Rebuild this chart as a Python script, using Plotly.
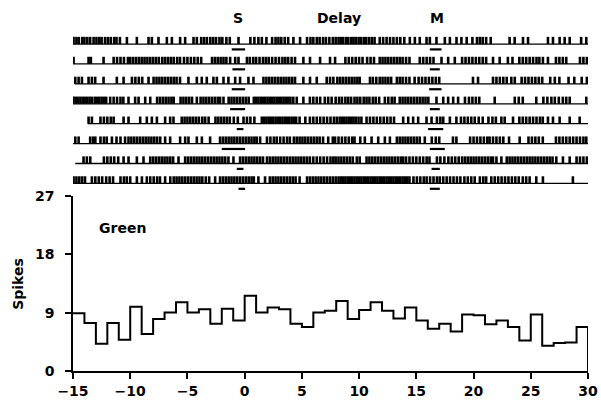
import plotly.graph_objects as go

# ---- Peri-event histogram (1-unit bins from -15 to 30) ----
bin_edges = list(range(-15, 31))
spike_counts = [8.9, 7.4, 4.2, 7.4, 4.8, 9.9, 5.7, 8.0, 9.0, 10.6,
                9.0, 9.5, 7.3, 9.6, 7.8, 11.6, 9.0, 9.8, 9.5, 7.3,
                6.8, 9.0, 9.3, 10.8, 8.0, 9.4, 10.6, 9.3, 8.1, 9.8,
                7.8, 6.5, 7.3, 6.1, 8.7, 8.6, 7.2, 7.8, 6.8, 4.7,
                8.7, 3.9, 4.3, 4.4, 6.8]
y_ticks = [0, 9, 18, 27]
x_ticks = [-15, -10, -5, 0, 5, 10, 15, 20, 25, 30]

# ---- Raster: spike times for each of the 8 trials (top to bottom) ----
trial_1 = [-14.95, -14.7, -14.5, -14.2, -14.0, -13.75, -13.5, -13.2, -12.95, -12.7, -12.5, -12.2,
           -11.95, -11.7, -11.4, -11.2, -10.9, -10.29, -9.42, -8.4, -8.11, -7.53, -6.8, -6.36,
           -5.64, -5.2, -4.47, -4.18, -3.8, -3.55, -3.3, -3.0, -2.75, -2.5, -2.2, -1.95, -1.6,
           -1.3, -0.54, 0.5, 0.85, 1.2, 1.5, 1.9, 2.4, 2.7, 2.95, 3.2, 3.5, 3.8, 4.26, 4.84,
           5.45, 5.75, 6.0, 6.3, 6.55, 6.85, 7.1, 7.4, 7.7, 7.95, 8.2, 8.4, 8.6, 8.85, 9.05,
           9.3, 9.5, 9.7, 9.95, 10.15, 10.4, 10.6, 10.85, 11.1, 11.35, 11.8, 12.1, 12.4, 12.7,
           13.0, 13.3, 13.6, 13.95, 14.43, 14.87, 15.3, 15.89, 16.18, 16.76, 17.49, 17.93,
           18.51, 18.94, 19.4, 19.9, 20.3, 20.55, 20.8, 21.1, 21.5, 23.15, 23.59, 24.32, 24.76,
           26.5, 26.94, 27.52, 27.96, 28.4, 29.4, 29.85]
trial_2 = [-14.95, -13.64, -13.44, -12.33, -11.45, -11.15, -10.85, -10.55, -10.2, -10.0, -9.75,
           -9.5, -9.25, -9.0, -8.75, -8.5, -8.25, -8.0, -7.75, -7.5, -7.2, -6.95, -6.7, -6.45,
           -6.2, -5.9, -5.65, -5.3, -5.0, -4.7, -4.4, -4.1, -3.8, -2.85, -2.6, -2.35, -2.1,
           -1.85, -1.6, -1.27, -0.83, -0.54, 0.2, 0.45, 0.75, 1.0, 1.3, 1.6, 1.85, 2.1, 2.4,
           2.7, 3.0, 3.3, 3.55, 3.8, 4.1, 4.4, 5.13, 5.71, 6.59, 7.46, 7.9, 8.8, 9.1, 9.4, 9.7,
           10.0, 10.3, 10.7, 11.0, 11.3, 11.8, 12.05, 12.3, 12.55, 12.8, 13.05, 13.3, 13.55,
           13.8, 14.1, 14.4, 15.3, 15.6, 15.9, 16.2, 16.5, 17.2, 17.78, 18.36, 19.0, 19.3,
           19.6, 19.9, 20.2, 20.5, 20.8, 21.1, 21.7, 22.28, 23.0, 23.4, 24.0, 24.3, 24.6, 24.9,
           25.2, 25.5, 25.75, 26.06, 26.5, 27.2, 27.5, 27.8, 28.1, 29.3, 29.6, 29.9]
trial_3 = [-14.8, -14.51, -14.22, -13.64, -13.35, -13.06, -12.33, -11.17, -10.58, -9.85, -9.55,
           -9.25, -8.95, -8.4, -7.96, -7.7, -7.45, -7.2, -6.95, -6.7, -6.45, -6.2, -5.95, -5.65,
           -4.91, -4.18, -3.75, -3.31, -2.73, -2.43, -1.85, -1.42, -0.83, -0.4, 0.33, 0.77,
           1.64, 1.9, 2.15, 2.4, 2.65, 2.9, 3.15, 3.4, 3.65, 3.9, 4.15, 4.4, 5.13, 5.71, 6.3,
           7.17, 7.46, 7.75, 8.1, 8.35, 8.6, 8.85, 9.1, 9.35, 9.6, 9.85, 10.05, 10.95, 11.2,
           11.5, 11.8, 12.05, 12.3, 12.55, 12.8, 13.3, 13.55, 13.8, 14.1, 14.4, 14.85, 15.2,
           15.5, 15.8, 16.1, 16.4, 16.7, 17.0, 19.95, 20.39, 21.7, 22.0, 22.3, 22.6, 22.9, 23.3,
           23.6, 24.2, 24.5, 24.8, 25.1, 25.4, 25.7, 26.0, 26.7, 27.1, 27.5, 28.3, 28.8, 29.45,
           29.9]
trial_4 = [-14.95, -14.75, -14.55, -14.35, -14.15, -13.95, -13.75, -13.55, -13.35, -13.1, -12.9,
           -12.7, -12.5, -12.3, -12.1, -11.75, -11.45, -11.15, -10.85, -10.6, -10.15, -9.57,
           -9.27, -8.69, -8.25, -7.65, -7.4, -7.15, -6.9, -6.65, -6.4, -6.2, -5.6, -5.35, -5.1,
           -4.85, -4.6, -4.18, -3.85, -3.6, -3.35, -3.1, -2.85, -2.6, -2.35, -2.15, -1.85, -1.4,
           -1.15, -0.9, -0.65, -0.4, -0.15, 0.1, 0.35, 0.8, 1.0, 1.2, 1.4, 1.6, 1.8, 2.0, 2.2,
           2.4, 2.6, 2.8, 3.0, 3.2, 3.4, 3.6, 3.8, 4.0, 4.25, 4.55, 5.13, 5.7, 6.0, 6.3, 6.6,
           7.0, 7.3, 7.6, 7.95, 8.25, 8.5, 8.8, 9.05, 9.3, 9.6, 9.85, 10.1, 10.4, 10.65, 10.9,
           11.2, 11.45, 11.75, 12.25, 12.55, 12.85, 13.1, 13.55, 13.8, 14.05, 14.3, 14.55, 14.8,
           15.05, 15.3, 15.55, 15.8, 16.05, 16.76, 17.35, 17.78, 18.22, 18.65, 19.25, 19.6,
           19.9, 20.2, 20.5, 21.85, 23.6, 23.95, 24.3, 25.48, 26.1, 26.45, 26.8, 27.1, 27.45,
           27.8, 28.1, 28.4, 29.85]
trial_5 = [-13.64, -13.35, -12.6, -12.3, -12.0, -11.7, -11.45, -10.58, -10.15, -9.13, -8.55,
           -8.11, -7.67, -6.95, -6.51, -6.22, -5.5, -5.25, -5.0, -4.75, -4.5, -4.25, -4.0, -3.7,
           -3.45, -3.15, -2.55, -2.3, -2.05, -1.8, -1.55, -1.3, -0.95, -0.6, -0.1, 0.2, 0.5,
           0.85, 1.5, 1.7, 1.9, 2.1, 2.3, 2.5, 2.7, 2.9, 3.1, 3.3, 3.5, 3.7, 3.9, 4.1, 4.3, 4.5,
           4.8, 5.3, 5.7, 6.0, 6.3, 6.6, 6.9, 7.2, 7.5, 7.8, 8.05, 8.3, 8.5, 8.7, 8.9, 9.1, 9.3,
           9.5, 9.7, 9.95, 10.2, 10.65, 10.95, 11.25, 11.55, 11.85, 12.15, 12.45, 12.75, 13.05,
           13.85, 14.29, 14.72, 15.16, 15.89, 16.33, 16.8, 17.1, 17.35, 17.93, 18.5, 18.9, 19.2,
           19.5, 19.8, 20.1, 20.45, 20.8, 21.3, 21.65, 21.95, 22.43, 22.72, 23.45, 24.0, 24.3,
           24.6, 24.9, 25.2, 25.5, 25.8, 26.05, 26.5, 26.94, 27.52, 28.4, 29.27]
trial_6 = [-14.8, -14.51, -13.5, -13.25, -13.05, -12.6, -12.3, -12.05, -11.6, -11.2, -10.85,
           -10.45, -10.15, -9.9, -9.65, -9.4, -9.15, -8.9, -8.65, -8.4, -8.15, -7.9, -7.65,
           -7.38, -6.95, -6.51, -5.64, -5.2, -4.91, -4.18, -3.74, -3.02, -2.15, -1.9, -1.65,
           -1.4, -1.15, -0.9, -0.65, -0.4, -0.15, 0.1, 0.35, 0.6, 0.85, 1.05, 1.35, 1.95, 2.25,
           2.55, 2.8, 3.1, 3.4, 3.7, 3.95, 4.3, 4.55, 4.8, 5.05, 5.3, 5.55, 5.8, 6.05, 6.3, 6.55,
           6.85, 7.3, 7.7, 7.9, 8.2, 8.5, 8.8, 9.1, 9.4, 9.6, 10.1, 10.5, 11.09, 11.67, 12.25,
           12.69, 13.3, 13.55, 13.8, 14.05, 14.3, 14.55, 14.8, 15.05, 15.3, 15.74, 16.35, 16.7,
           17.0, 18.2, 18.5, 19.7, 20.0, 20.3, 20.6, 20.9, 21.2, 21.4, 21.7, 22.0, 22.3, 22.6,
           23.1, 24.03, 24.8, 25.1, 25.4, 25.7, 26.05, 27.2, 27.5, 27.8, 28.1, 28.4, 28.7, 29.0,
           29.3, 29.6, 29.85]
trial_7 = [-14.08, -13.79, -13.49, -12.3, -12.0, -11.7, -11.4, -11.05, -10.58, -10.15, -9.42,
           -8.84, -8.25, -8.0, -7.75, -7.5, -7.25, -7.0, -6.75, -6.5, -6.25, -5.78, -5.2, -4.95,
           -4.7, -4.45, -4.2, -3.95, -3.7, -3.45, -3.2, -2.95, -2.7, -2.45, -2.2, -1.95, -1.7,
           -1.42, -0.98, -0.4, -0.15, 0.1, 0.35, 0.6, 0.85, 1.1, 1.35, 1.6, 1.95, 2.2, 2.45,
           2.7, 2.95, 3.2, 3.45, 3.7, 3.95, 4.2, 4.45, 4.7, 4.95, 5.2, 5.45, 5.7, 6.0, 6.3, 6.6,
           6.9, 7.2, 7.5, 7.75, 7.95, 8.2, 8.45, 8.7, 8.95, 9.2, 9.45, 9.8, 10.05, 10.65, 10.9,
           11.15, 11.4, 11.65, 11.9, 12.15, 12.4, 12.65, 12.9, 13.15, 13.4, 13.65, 13.85, 14.1,
           14.4, 14.7, 15.0, 15.3, 15.6, 15.9, 16.15, 16.8, 17.1, 17.45, 17.8, 18.1, 18.4, 18.7,
           19.0, 19.25, 19.5, 19.75, 20.0, 20.25, 20.5, 20.75, 21.0, 21.25, 21.5, 21.7, 22.0,
           22.43, 22.9, 23.15, 23.4, 23.65, 23.9, 24.15, 24.4, 24.65, 24.9, 25.15, 25.4, 25.65,
           25.9, 26.15, 26.4, 26.65, 26.9, 27.23, 27.81, 28.4, 29.0, 29.3, 29.6, 29.9]
trial_8 = [-14.95, -14.7, -14.45, -14.2, -13.95, -13.35, -13.05, -12.75, -12.45, -12.1, -11.8,
           -11.5, -10.85, -10.55, -10.3, -10.0, -9.42, -8.98, -8.55, -8.25, -7.95, -7.65, -7.4,
           -6.95, -6.5, -6.2, -5.95, -5.7, -5.45, -5.2, -4.95, -4.7, -4.45, -4.2, -3.95, -3.7,
           -3.4, -3.1, -2.58, -2.15, -1.9, -1.65, -1.4, -1.15, -0.9, -0.65, -0.4, -0.15, 0.1,
           0.35, 0.6, 0.8, 1.2, 1.78, 2.2, 2.45, 2.7, 2.95, 3.2, 3.45, 3.7, 3.95, 4.2, 4.45, 4.8,
           5.45, 5.7, 5.95, 6.2, 6.45, 6.7, 6.95, 7.2, 7.45, 7.7, 7.95, 8.2, 8.4, 8.6, 8.8, 9.0,
           9.2, 9.4, 9.6, 9.8, 10.0, 10.2, 10.4, 10.6, 10.8, 11.0, 11.2, 11.4, 11.6, 11.8, 12.0,
           12.2, 12.4, 12.6, 12.8, 13.0, 13.2, 13.4, 13.6, 13.8, 14.0, 14.2, 14.4, 14.75, 15.05,
           15.35, 15.65, 15.9, 16.2, 16.5, 16.8, 17.05, 17.35, 17.65, 17.95, 18.25, 18.55,
           18.85, 19.2, 19.5, 19.8, 20.1, 20.55, 20.85, 21.1, 21.55, 21.85, 22.15, 22.45, 22.75,
           23.05, 23.35, 23.65, 23.95, 24.3, 24.6, 24.9, 25.48, 26.06, 28.68]
trials = [trial_1, trial_2, trial_3, trial_4, trial_5, trial_6, trial_7, trial_8]

# Time at which each trial's record begins
trial_start = [-15, -15, -14.85, -15, -13.7, -15, -14.8, -15]
trial_end = 30

# Stimulus (S) and match (M) event bars under each trial: (start, end)
s_bars = [(-1.13, 0.04), (-1.07, 0.04), (-1.13, 0.04), (-1.27, 0.04),
          (-0.69, -0.11), (-2.0, 0.04), (-0.69, -0.11), (-0.54, 0.04)]
m_bars = [(16.18, 17.2), (16.18, 17.05), (16.12, 17.2), (16.18, 17.05),
          (16.03, 17.35), (16.18, 17.49), (16.33, 17.05), (16.18, 17.05)]

event_labels = ["S", "Delay", "M"]
event_label_x = [-0.55, 8.2, 16.83]

FONT = "DejaVu Sans"
n_trials = len(trials)
tick_h = 0.36     # spike tick height in row units
bar_off = 0.27    # event bar offset below the row baseline

fig = go.Figure()

# Histogram as a stepped outline that drops to zero at the last edge
hx = bin_edges[:-1] + [bin_edges[-1], bin_edges[-1]]
hy = spike_counts + [spike_counts[-1], 0]
fig.add_trace(go.Scatter(x=hx, y=hy, mode="lines", line=dict(color="black", width=2, shape="hv"),
                         xaxis="x", yaxis="y", hoverinfo="skip", showlegend=False))

# Raster rows: baselines, spike ticks and event bars
base_x, base_y = [], []
tick_x, tick_y = [], []
bar_x, bar_y = [], []
for i, spikes in enumerate(trials):
    row = n_trials - i
    base_x += [trial_start[i], trial_end, None]
    base_y += [row, row, None]
    for t in spikes:
        tick_x += [t, t, None]
        tick_y += [row, row + tick_h, None]
    for a, b in (s_bars[i], m_bars[i]):
        bar_x += [a, b, None]
        bar_y += [row - bar_off, row - bar_off, None]

fig.add_trace(go.Scatter(x=base_x, y=base_y, mode="lines", line=dict(color="black", width=1.3),
                         xaxis="x", yaxis="y2", hoverinfo="skip", showlegend=False))
fig.add_trace(go.Scatter(x=tick_x, y=tick_y, mode="lines", line=dict(color="black", width=2.6),
                         xaxis="x", yaxis="y2", hoverinfo="skip", showlegend=False))
fig.add_trace(go.Scatter(x=bar_x, y=bar_y, mode="lines", line=dict(color="black", width=2.2),
                         xaxis="x", yaxis="y2", hoverinfo="skip", showlegend=False))

annotations = []
for lab, lx in zip(event_labels, event_label_x):
    annotations.append(dict(text=f"<b>{lab}</b>", x=lx, y=9.31, xref="x", yref="y2",
                            showarrow=False, xanchor="center", yanchor="middle",
                            font=dict(family=FONT, size=14, color="black")))
annotations.append(dict(text="<b>Green</b>", x=-10.7, y=22.0, xref="x", yref="y",
                        showarrow=False, xanchor="center", yanchor="middle",
                        font=dict(family=FONT, size=14, color="black")))
annotations.append(dict(text="<b>Spikes</b>", x=-0.106, y=13.5, xref="paper", yref="y",
                        showarrow=False, textangle=-90, xanchor="center", yanchor="middle",
                        font=dict(family=FONT, size=14, color="black")))

fig.update_layout(
    width=601, height=402,
    autosize=False,
    margin=dict(l=72.7, r=12.7, t=10, b=31.3, pad=0, autoexpand=False),
    paper_bgcolor="white", plot_bgcolor="white",
    showlegend=False,
    annotations=annotations,
    xaxis=dict(range=[-15, 30], tickvals=x_ticks, ticks="outside", ticklen=6, tickwidth=1.5,
               showline=True, linewidth=1.5, linecolor="black", tickcolor="black",
               showgrid=False, zeroline=False, anchor="y", automargin=False,
               tickfont=dict(family=FONT, size=14, color="black", weight="bold")),
    yaxis=dict(domain=[0, 0.4852], range=[0, 27], tickvals=y_ticks, ticks="outside", ticklen=6,
               tickwidth=1.5, showline=True, linewidth=1.5, linecolor="black", tickcolor="black",
               showgrid=False, zeroline=False, anchor="x", ticklabelstandoff=8, automargin=False,
               tickfont=dict(family=FONT, size=14, color="black", weight="bold")),
    yaxis2=dict(domain=[0.49, 1.0], range=[0.464, 9.709], visible=False, anchor="x",
                showgrid=False, zeroline=False, automargin=False),
)

fig.write_html("out.html")
